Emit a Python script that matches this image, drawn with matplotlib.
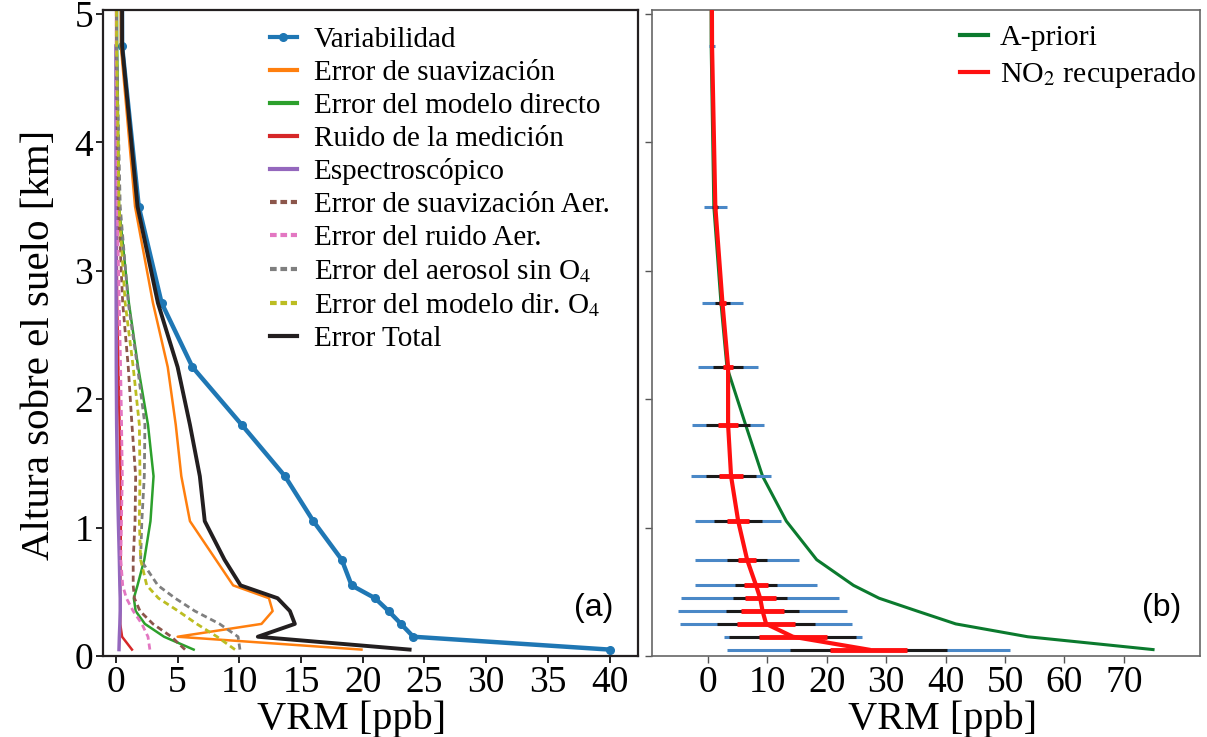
import numpy as np
import matplotlib
matplotlib.use('Agg')
import matplotlib.pyplot as plt

plt.rcParams['font.family'] = ['Liberation Serif', 'DejaVu Serif']
plt.rcParams['mathtext.fontset'] = 'stix'

# alturas de las capas [km]
alturas = [0.05, 0.15, 0.25, 0.35, 0.45, 0.55, 0.75, 1.05, 1.4, 1.8, 2.25, 2.75, 3.5, 4.75, 6.5]

# panel (a): errores [ppb]
variabilidad = [40.0, 24.1, 23.1, 22.1, 21.0, 19.1, 18.3, 16.0, 13.7, 10.2, 6.2, 3.7, 1.85, 0.5, 0.45]
err_suav = [19.9, 5.0, 11.8, 12.7, 12.4, 9.5, 8.1, 6.0, 5.3, 4.85, 4.2, 3.0, 1.55, 0.4, 0.35]
err_modelo = [6.3, 3.9, 2.35, 1.6, 1.45, 1.75, 2.3, 2.8, 3.05, 2.6, 1.8, 1.05, 0.25, 0.1, 0.05]
ruido = [1.3, 0.5, 0.35, 0.35, 0.35, 0.35, 0.38, 0.4, 0.38, 0.3, 0.2, 0.1, 0.05, 0.02, 0.02]
espectro = [0.25, 0.28, 0.32, 0.35, 0.35, 0.32, 0.28, 0.2, 0.12, 0.06, 0.03, 0.02, 0.01, 0.0, np.nan]
err_suav_aer = [5.6, 4.5, 3.0, 1.95, 1.5, 1.4, 1.4, 1.55, 1.6, 1.3, 1.0, 0.55, 0.2, 0.05, 0.03]
err_ruido_aer = [2.75, 2.6, 2.1, 1.4, 0.85, 0.55, 0.4, 0.45, 0.52, 0.46, 0.38, 0.27, 0.1, 0.03, 0.02]
err_aer_sin_o4 = [10.05, 9.9, 8.4, 6.4, 4.8, 3.4, 2.0, 2.1, 2.3, 2.35, 1.75, 1.0, 0.35, 0.05, 0.03]
err_modelo_o4 = [9.65, 8.2, 6.55, 5.05, 3.45, 2.5, 2.0, 1.9, 1.95, 1.9, 1.4, 0.75, 0.25, 0.05, 0.03]
err_total = [23.8, 11.5, 14.5, 14.1, 13.1, 10.1, 8.8, 7.2, 6.8, 6.0, 5.0, 3.4, 1.75, 0.5, 0.5]

# panel (b): perfil recuperado [ppb]
a_priori = [74.9, 53.8, 41.7, 35.2, 28.8, 24.5, 18.3, 13.2, 9.2, 6.35, 3.2, 2.2, 1.0, 0.55, 0.5]
no2_recup = [27.0, 14.3, 9.8, 9.2, 8.8, 8.1, 6.6, 5.1, 3.9, 3.4, 3.4, 2.45, 1.25, 0.7, 0.55]
barra_total = [23.8, 11.55, 14.5, 14.15, 13.25, 10.2, 8.7, 7.2, 6.75, 6.05, 5.0, 3.5, 1.9, 0.55, 0.5]
barra_media = [13.2, 10.7, 8.2, 6.15, 4.55, 3.6, 3.4, 4.0, 4.25, 3.65, 2.48, 1.29, 0.5, 0.2, 0.2]
barra_ruido = [6.45, 5.75, 4.85, 3.6, 2.6, 1.95, 1.55, 1.9, 1.95, 1.7, 0.84, 0.57, 0.3, 0.15, 0.1]

fig = plt.figure(figsize=(12.07, 7.37), dpi=100)
ax1 = fig.add_axes([0.0853, 0.1099, 0.4432, 0.8765])
ax2 = fig.add_axes([0.5402, 0.1099, 0.4540, 0.8765], sharey=ax1)

guion = (0, (2.2, 1.4))
ax1.plot(variabilidad, alturas, color='#1f77b4', lw=3.2, marker='o', ms=5.5, label='Variabilidad')
ax1.plot(err_suav, alturas, color='#ff7f0e', lw=1.8, label='Error de suavización')
ax1.plot(err_modelo, alturas, color='#2ca02c', lw=1.8, label='Error del modelo directo')
ax1.plot(ruido, alturas, color='#d62728', lw=1.8, label='Ruido de la medición')
ax1.plot(espectro, alturas, color='#9467bd', lw=2.5, label='Espectroscópico')
ax1.plot(err_suav_aer, alturas, color='#8c564b', lw=2, ls=guion, label='Error de suavización Aer.')
ax1.plot(err_ruido_aer, alturas, color='#e377c2', lw=2, ls=guion, label='Error del ruido Aer.')
ax1.plot(err_aer_sin_o4, alturas, color='#7f7f7f', lw=2, ls=guion, label='Error del aerosol sin O$_4$')
ax1.plot(err_modelo_o4, alturas, color='#bcbd22', lw=2, ls=guion, label='Error del modelo dir. O$_4$')
ax1.plot(err_total, alturas, color='#231f20', lw=2.8, label='Error Total')

ax1.set_xlim(-1.05, 42.3)
ax1.set_ylim(0, 5.03)
ax1.set_xticks([0, 5, 10, 15, 20, 25, 30, 35, 40])
ax1.set_yticks([0, 1, 2, 3, 4, 5])
ax1.set_xlabel('VRM [ppb]', fontsize=29, labelpad=0, x=0.464)
ax1.set_ylabel('Altura sobre el suelo [km]', fontsize=29.5, labelpad=12, y=0.482)
ax1.tick_params(labelsize=27, length=5, width=1.2, pad=2)
for s in ax1.spines.values():
    s.set_linewidth(1.6)
    s.set_color('#231f20')
leg1 = ax1.legend(loc='upper left', bbox_to_anchor=(0.312, 0.974), frameon=False,
                  fontsize=21, handlelength=0.92, handletextpad=0.58,
                  labelspacing=0.22, borderpad=0, borderaxespad=0)
for h in leg1.get_lines():
    if h.get_linestyle() == '-':
        h.set_linewidth(3)
    else:
        h.set_linewidth(3)
        h.set_linestyle((0, (1.6, 0.9)))
ax1.text(0.955, 0.075, '(a)', transform=ax1.transAxes, ha='right', va='center',
         fontsize=23, family='Liberation Sans')

# panel (b)
ax2.plot(a_priori, alturas, color='#0b7a2e', lw=2.2, label='A-priori', zorder=2)
ax2.errorbar(no2_recup, alturas, xerr=barra_total, fmt='none', ecolor='#4a88c7', elinewidth=2.2, zorder=3)
ax2.errorbar(no2_recup, alturas, xerr=barra_media, fmt='none', ecolor='#1a1a1a', elinewidth=2.2, zorder=4)
ax2.errorbar(no2_recup, alturas, xerr=barra_ruido, fmt='none', ecolor='#ff1010', elinewidth=3.5, zorder=5)
ax2.plot(no2_recup, alturas, color='#ff1010', lw=3, label='NO$_2$ recuperado', zorder=6)

ax2.set_xlim(-9.4, 82.8)
ax2.set_xticks([0, 10, 20, 30, 40, 50, 60, 70])
ax2.set_xlabel('VRM [ppb]', fontsize=29, labelpad=0, x=0.53)
ax2.tick_params(labelsize=27, length=5, width=1.0, pad=2, color='#555555')
ax2.tick_params(axis='y', labelleft=False)
for s in ax2.spines.values():
    s.set_linewidth(1.2)
    s.set_color('#666666')
leg2 = ax2.legend(loc='upper right', bbox_to_anchor=(0.993, 0.978), frameon=False,
                  fontsize=21.5, handlelength=0.92, handletextpad=0.4,
                  labelspacing=0.3, borderpad=0, borderaxespad=0)
for h in leg2.get_lines():
    h.set_linewidth(3)
ax2.text(0.965, 0.075, '(b)', transform=ax2.transAxes, ha='right', va='center',
         fontsize=23, family='Liberation Sans')

fig.savefig('out.png', dpi=100)
